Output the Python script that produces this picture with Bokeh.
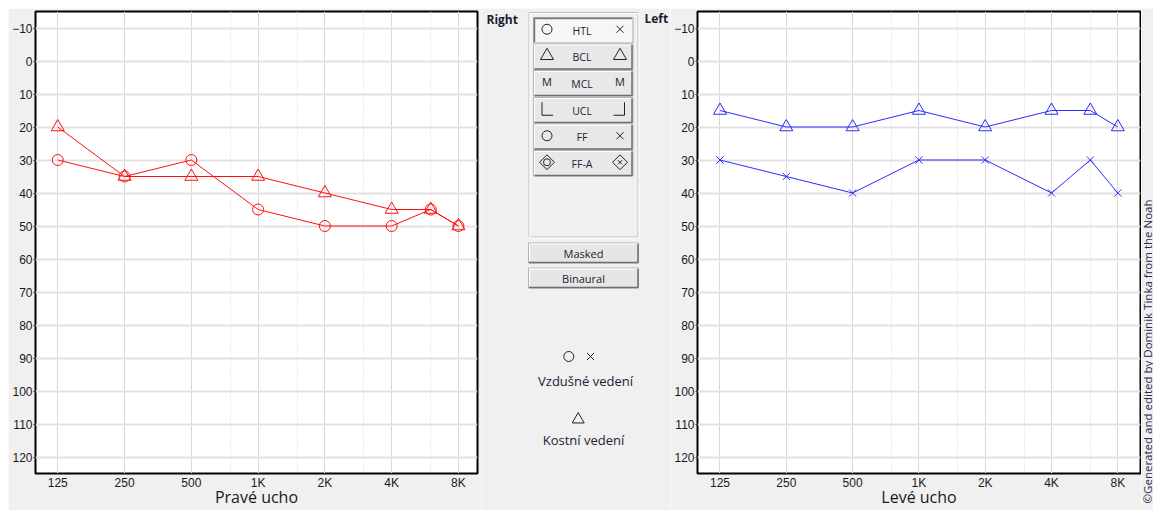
import math
from bokeh.plotting import figure
from bokeh.layouts import row, column
from bokeh.models import Range1d, FixedTicker, Spacer
from bokeh.embed import file_html
from bokeh.resources import INLINE
from bokeh.core.properties import value

# ---------------- data ----------------
freqs = [125, 250, 500, 1000, 2000, 4000, 6000, 8000]
right_htl = [30, 35, 30, 45, 50, 50, 45, 50]   # Pravé ucho, vzdušné vedení (o)
right_bcl = [20, 35, 35, 35, 40, 45, 45, 50]   # Pravé ucho, kostní vedení (triangle)
left_htl = [30, 35, 40, 30, 30, 40, 30, 40]    # Levé ucho, vzdušné vedení (x)
left_bcl = [15, 20, 20, 15, 20, 15, 15, 20]    # Levé ucho, kostní vedení (triangle)

major_freqs = [125, 250, 500, 1000, 2000, 4000, 8000]
minor_freqs = [750, 1500, 3000, 6000]
freq_labels = ["125", "250", "500", "1K", "2K", "4K", "8K"]
db_ticks = list(range(-10, 121, 10))

button_labels = ["HTL", "BCL", "MCL", "UCL", "FF", "FF-A"]
copyright_text = "©Generated and edited by Dominik Tinka from the Noah"

BG = "#f0f0f0"
H = 502
TICK_FONT = "Liberation Sans"
UI_FONT = "Open Sans"
RED = "#ff1010"
BLUE = "#2b2bff"


def audiogram(width, b_left, b_right, xlo, xhi, title):
    p = figure(width=width, height=H, x_axis_type="log",
               x_range=Range1d(xlo, xhi), y_range=Range1d(125, -15),
               output_backend="svg", toolbar_location=None,
               min_border_left=b_left, min_border_right=b_right,
               min_border_top=3, min_border_bottom=37)
    p.background_fill_color = "white"
    p.border_fill_color = BG
    p.outline_line_color = "black"
    p.outline_line_width = 2

    xt = FixedTicker(ticks=major_freqs, minor_ticks=minor_freqs)
    p.xaxis.ticker = xt
    p.xgrid.ticker = xt
    p.xaxis.major_label_overrides = dict(zip(major_freqs, freq_labels))
    yt = FixedTicker(ticks=db_ticks)
    p.yaxis.ticker = yt
    p.ygrid.ticker = yt

    p.xgrid.grid_line_color = "#d9d9d9"
    p.xgrid.grid_line_width = 1
    p.xgrid.minor_grid_line_color = "#d4d4d4"
    p.xgrid.minor_grid_line_dash = "1 2"
    p.ygrid.grid_line_color = "#e2e2e2"
    p.ygrid.grid_line_width = 2

    p.axis.axis_line_color = None
    p.axis.minor_tick_line_color = None
    p.axis.minor_tick_out = 0
    p.axis.minor_tick_in = 0
    p.xaxis.major_tick_line_color = None
    p.xaxis.major_tick_out = 0
    p.xaxis.major_tick_in = 0
    p.xaxis.major_label_standoff = 2
    p.yaxis.major_tick_in = 0
    p.yaxis.major_tick_out = 2
    p.yaxis.major_tick_line_color = "#333333"
    p.yaxis.major_label_standoff = 1
    p.axis.major_label_text_font = TICK_FONT
    p.axis.major_label_text_font_size = "12px"
    p.axis.major_label_text_color = "#1a1a1a"

    p.xaxis.axis_label = title
    p.xaxis.axis_label_standoff = -7
    p.xaxis.axis_label_text_font = UI_FONT
    p.xaxis.axis_label_text_font_size = "16px"
    p.xaxis.axis_label_text_font_style = "normal"
    p.xaxis.axis_label_text_color = "#1a1a1a"
    return p


# ---------------- left chart (Pravé ucho) ----------------
pl = audiogram(473, 27, 4, 99.2, 9750, "Pravé ucho")
pl.line(freqs, right_htl, line_color=RED, line_width=1)
pl.line(freqs, right_bcl, line_color=RED, line_width=1)
pl.scatter(freqs, right_htl, marker="circle", size=11, fill_color=None,
           line_color=RED, line_width=1)
pl.scatter(freqs, right_bcl, marker="triangle", size=13, fill_color=None,
           line_color=RED, line_width=1)

# ---------------- right chart (Levé ucho) ----------------
pr = audiogram(471, 27, 1, 98.8, 10140, "Levé ucho")
pr.line(freqs, left_bcl, line_color=BLUE, line_width=1)
pr.line(freqs, left_htl, line_color=BLUE, line_width=1)
pr.scatter(freqs, left_bcl, marker="triangle", size=13, fill_color=None,
           line_color=BLUE, line_width=1)
pr.scatter(freqs, left_htl, marker="x", size=10, line_color=BLUE, line_width=1)

# ---------------- copyright strip ----------------
SW = 12
ps = figure(width=SW, height=H, x_range=Range1d(0, SW), y_range=Range1d(H, 0),
            output_backend="svg", toolbar_location=None,
            x_axis_location=None, y_axis_location=None, min_border=0)
ps.grid.visible = False
ps.outline_line_color = None
ps.background_fill_color = BG
ps.border_fill_color = BG
ps.text(x=[6], y=[495], text=[copyright_text], angle=math.pi / 2,
        text_font=value(UI_FONT), text_font_size="11.5px", text_color="#2a2a4a",
        text_align="left", text_baseline="middle")

# ---------------- middle panel ----------------
MW = 189
pm = figure(width=MW, height=H, x_range=Range1d(0, MW), y_range=Range1d(H, 0),
            output_backend="svg", toolbar_location=None,
            x_axis_location=None, y_axis_location=None, min_border=0)
pm.grid.visible = False
pm.outline_line_color = None
pm.background_fill_color = BG
pm.border_fill_color = BG

DARK = "#222222"
TXT = "#1c1c34"

pm.text(x=[5, 163], y=[10.5, 9.5], text=["Right", "Left"],
        text_font=value(UI_FONT), text_font_size="12px",
        text_font_style="bold", text_color=TXT,
        text_align="left", text_baseline="middle")

# group box
pm.quad(left=[47.5], right=[156.5], top=[4], bottom=[228.5],
        fill_color=None, line_color="#bcbcbc", line_width=1)
pm.quad(left=[48.5], right=[157.5], top=[5], bottom=[229.5],
        fill_color=None, line_color="#ffffff", line_width=1)

# buttons
btn_l, btn_r = 52, 151.5
btn_tops = [9, 35.5, 62, 89, 115.5, 142]
btn_h = 25.5
for i, (t, lab) in enumerate(zip(btn_tops, button_labels)):
    b = t + btn_h
    if i == 0:
        pm.quad(left=[btn_l], right=[btn_r], top=[t], bottom=[b],
                fill_color="#f6f6f6", line_color="#a8a8a8", line_width=1)
        pm.multi_line(xs=[[btn_l + 1, btn_l + 1, btn_r - 1]],
                      ys=[[b - 1, t + 1, t + 1]],
                      line_color="#7a7a7a", line_width=1.5)
    else:
        pm.quad(left=[btn_l], right=[btn_r], top=[t], bottom=[b],
                fill_color="#e8e8e8", line_color="#b4b4b4", line_width=1)
        pm.multi_line(xs=[[btn_l + 1, btn_r - 1, btn_r - 1]],
                      ys=[[b - 0.5, b - 0.5, t + 1]],
                      line_color="#6e6e6e", line_width=1.5)
        pm.multi_line(xs=[[btn_l + 1, btn_l + 1, btn_r - 2]],
                      ys=[[b - 2, t + 1, t + 1]],
                      line_color="#ffffff", line_width=1)

cy = [t + btn_h / 2 for t in btn_tops]
pm.text(x=[100.5] * 6, y=[c + 0.5 for c in cy], text=button_labels,
        text_font=value(UI_FONT), text_font_size="10.5px", text_color=TXT,
        text_align="center", text_baseline="middle")

SX_L, SX_R = 65.5, 138.5
# HTL
pm.scatter([SX_L], [cy[0] - 1], marker="circle", size=10, fill_color=None,
           line_color=DARK, line_width=1)
pm.scatter([SX_R], [cy[0] - 1], marker="x", size=10, line_color=DARK, line_width=1)
# BCL
pm.scatter([SX_L, SX_R], [cy[1] - 1, cy[1] - 1], marker="triangle", size=13,
           fill_color=None, line_color=DARK, line_width=1)
# MCL
pm.text(x=[SX_L, SX_R], y=[cy[2] - 2, cy[2] - 2], text=["M", "M"],
        text_font=value(UI_FONT), text_font_size="11px", text_color=DARK,
        text_align="center", text_baseline="middle")
# UCL
pm.multi_line(xs=[[60.5, 60.5, 71.5], [143, 143, 132]],
              ys=[[cy[3] - 8, cy[3] + 5, cy[3] + 5], [cy[3] - 8, cy[3] + 5, cy[3] + 5]],
              line_color=DARK, line_width=1)
# FF
pm.scatter([SX_L], [cy[4] - 1], marker="circle", size=10, fill_color=None,
           line_color=DARK, line_width=1)
pm.scatter([SX_R], [cy[4] - 1], marker="x", size=10, line_color=DARK, line_width=1)
# FF-A
pm.scatter([SX_L, SX_R], [cy[5] - 1, cy[5] - 1], marker="square", size=10.5,
           angle=math.pi / 4, fill_color=None, line_color=DARK, line_width=1)
pm.scatter([SX_L], [cy[5] - 1], marker="circle", size=7, fill_color=None,
           line_color=DARK, line_width=1)
pm.scatter([SX_R], [cy[5] - 1], marker="x", size=6, line_color=DARK, line_width=1)

# Masked / Binaural buttons
for t, lab in [(234.5, "Masked"), (259.5, "Binaural")]:
    b = t + 20
    pm.quad(left=[47], right=[157], top=[t], bottom=[b],
            fill_color="#e6e6e6", line_color="#b4b4b4", line_width=1)
    pm.multi_line(xs=[[47.5, 156.5, 156.5]], ys=[[b - 0.5, b - 0.5, t + 1]],
                  line_color="#6e6e6e", line_width=1.5)
    pm.multi_line(xs=[[48, 48, 155.5]], ys=[[b - 2, t + 1, t + 1]],
                  line_color="#ffffff", line_width=1)
    pm.text(x=[102], y=[t + 10.5], text=[lab], text_font=value(UI_FONT),
            text_font_size="11px", text_color=TXT,
            text_align="center", text_baseline="middle")

# legend
pm.scatter([87.3], [348], marker="circle", size=10, fill_color=None,
           line_color=DARK, line_width=1)
pm.scatter([109], [348], marker="x", size=10, line_color=DARK, line_width=1)
pm.scatter([96.7], [411], marker="triangle", size=12, fill_color=None,
           line_color=DARK, line_width=1)
pm.text(x=[104, 102], y=[372, 431], text=["Vzdušné vedení", "Kostní vedení"],
        text_font=value(UI_FONT), text_font_size="13px", text_color=TXT,
        text_align="center", text_baseline="middle")

layout = column(Spacer(height=8),
                row(Spacer(width=8), pl, column(pm), pr, column(ps), spacing=0),
                spacing=0)
open("out.html", "w").write(file_html(layout, INLINE))
